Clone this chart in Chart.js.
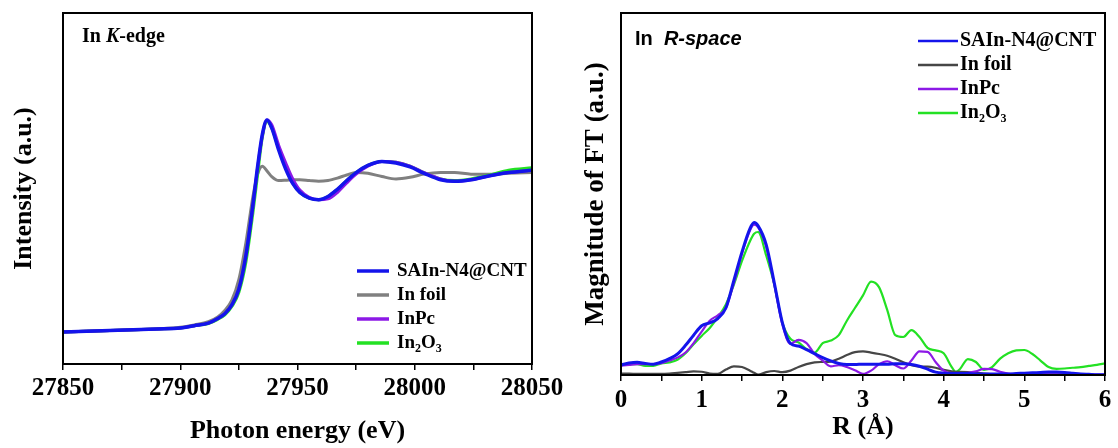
<!DOCTYPE html>
<html>
<head>
<meta charset="utf-8">
<script src="https://cdn.jsdelivr.net/npm/chart.js@4.4.1/dist/chart.umd.min.js"></script>
<style>
	html, body { margin: 0; padding: 0; background: #fff; }
	#wrap { position: relative; width: 1118px; height: 448px; overflow: hidden; }
	.panel { position: absolute; top: 0; }
	#xanes { left: 0; }
	#exafs { left: 560px; }
</style>
</head>
<body>
<div id="wrap">
	<div class="panel" id="xanes"><canvas id="xanesChart" width="590" height="448"></canvas></div>
	<div class="panel" id="exafs"><canvas id="exafsChart" width="558" height="448"></canvas></div>
</div>
<script>
// sample names, in legend order (underscore + digit = subscript)
const sampleNames = ["SAIn-N4@CNT", "In foil", "InPc", "In_2O_3"];
const sampleColors = ["rgb(20, 20, 235)", "rgb(128, 128, 128)", "rgb(140, 25, 230)", "rgb(35, 225, 35)"];
const foilColorFT = "rgb(70, 70, 70)";

// In K-edge XANES, normalized absorption
const energy = [27850, 27870, 27890, 27900, 27906, 27912, 27916, 27919, 27922, 27925, 27928, 27931, 27933, 27935, 27937, 27939, 27942, 27945, 27948, 27951, 27955, 27959, 27963, 27967, 27971, 27975, 27980, 27986, 27992, 27998, 28004, 28011, 28017, 28024, 28032, 28040, 28050];
const muSAIn = [0.0, 0.01, 0.02, 0.025, 0.04, 0.056, 0.085, 0.115, 0.17, 0.27, 0.48, 0.8, 1.04, 1.24, 1.33, 1.28, 1.14, 1.02, 0.93, 0.875, 0.84, 0.83, 0.85, 0.895, 0.95, 1.0, 1.045, 1.07, 1.06, 1.035, 0.995, 0.955, 0.945, 0.955, 0.98, 1.0, 1.015];
const muFoil = [0.0, 0.01, 0.02, 0.03, 0.045, 0.065, 0.095, 0.135, 0.2, 0.33, 0.56, 0.85, 0.99, 1.04, 1.01, 0.975, 0.95, 0.952, 0.955, 0.955, 0.95, 0.945, 0.95, 0.965, 0.985, 1.0, 0.995, 0.975, 0.96, 0.97, 0.99, 1.0, 1.0, 0.99, 0.99, 0.995, 1.0];
const muInPc = [0.0, 0.01, 0.02, 0.025, 0.04, 0.056, 0.085, 0.115, 0.17, 0.27, 0.48, 0.79, 1.03, 1.23, 1.33, 1.3, 1.17, 1.06, 0.96, 0.89, 0.845, 0.83, 0.835, 0.875, 0.935, 0.99, 1.04, 1.07, 1.065, 1.04, 1.0, 0.96, 0.945, 0.955, 0.98, 1.0, 1.015];
const muIn2O3 = [0.0, 0.01, 0.02, 0.025, 0.04, 0.054, 0.08, 0.108, 0.16, 0.25, 0.44, 0.75, 0.99, 1.22, 1.32, 1.28, 1.15, 1.03, 0.935, 0.875, 0.84, 0.83, 0.85, 0.895, 0.95, 1.0, 1.045, 1.07, 1.065, 1.04, 1.0, 0.96, 0.95, 0.96, 0.985, 1.015, 1.03];
const energyMajor = [27850, 27900, 27950, 28000, 28050];

// R-space magnitude of FT
const rDist = [0, 0.1, 0.2, 0.3, 0.4, 0.5, 0.6, 0.7, 0.8, 0.9, 1.0, 1.1, 1.2, 1.3, 1.4, 1.5, 1.6, 1.65, 1.7, 1.8, 1.9, 2.0, 2.1, 2.2, 2.3, 2.4, 2.5, 2.6, 2.7, 2.8, 2.9, 3.0, 3.1, 3.2, 3.3, 3.4, 3.5, 3.6, 3.7, 3.8, 3.9, 4.0, 4.1, 4.15, 4.2, 4.3, 4.4, 4.5, 4.6, 4.7, 4.8, 4.9, 5.0, 5.1, 5.2, 5.3, 5.4, 5.5, 5.6, 5.7, 5.8, 5.9, 6.0];
const ftSAIn = [0.28, 0.33, 0.35, 0.32, 0.3, 0.36, 0.45, 0.58, 0.82, 1.1, 1.36, 1.44, 1.56, 1.85, 2.62, 3.4, 4.05, 4.21, 4.12, 3.6, 2.55, 1.45, 0.87, 0.8, 0.7, 0.59, 0.48, 0.39, 0.32, 0.29, 0.29, 0.3, 0.3, 0.3, 0.3, 0.31, 0.31, 0.29, 0.24, 0.16, 0.08, 0.05, 0.04, 0.04, 0.04, 0.04, 0.03, 0.03, 0.03, 0.03, 0.03, 0.04, 0.05, 0.06, 0.07, 0.08, 0.08, 0.07, 0.05, 0.03, 0.02, 0.01, 0.01];
const ftFoil = [0.04, 0.04, 0.03, 0.03, 0.03, 0.03, 0.04, 0.06, 0.08, 0.1, 0.09, 0.04, 0.03, 0.15, 0.24, 0.22, 0.12, 0.06, 0.01, 0.08, 0.11, 0.08, 0.12, 0.22, 0.3, 0.35, 0.36, 0.37, 0.45, 0.55, 0.63, 0.65, 0.62, 0.58, 0.53, 0.45, 0.35, 0.27, 0.23, 0.23, 0.2, 0.14, 0.1, 0.09, 0.09, 0.08, 0.06, 0.04, 0.02, 0.0, 0.01, 0.02, 0.02, 0.02, 0.02, 0.02, 0.02, 0.02, 0.01, 0.01, 0.01, 0.0, 0.0];
const ftInPc = [0.26, 0.28, 0.3, 0.3, 0.3, 0.33, 0.4, 0.48, 0.62, 0.88, 1.2, 1.5, 1.65, 1.85, 2.55, 3.35, 4.0, 4.15, 4.08, 3.55, 2.5, 1.4, 0.86, 0.97, 0.88, 0.58, 0.4, 0.24, 0.27, 0.22, 0.13, 0.03, 0.12, 0.3, 0.38, 0.27, 0.18, 0.4, 0.65, 0.64, 0.36, 0.12, 0.05, 0.05, 0.05, 0.06, 0.1, 0.17, 0.16, 0.09, 0.04, 0.02, 0.02, 0.02, 0.02, 0.02, 0.02, 0.01, 0.01, 0.01, 0.01, 0.01, 0.01];
const ftIn2O3 = [0.3, 0.3, 0.3, 0.25, 0.25, 0.32, 0.35, 0.42, 0.6, 0.85, 1.08, 1.3, 1.6, 1.95, 2.5, 3.15, 3.7, 3.9, 3.95, 3.3, 2.5, 1.45, 1.0, 0.9, 0.72, 0.62, 0.88, 0.95, 1.1, 1.5, 1.85, 2.2, 2.58, 2.42, 1.8, 1.1, 1.05, 1.24, 1.05, 0.75, 0.68, 0.6, 0.22, 0.09, 0.16, 0.44, 0.36, 0.14, 0.22, 0.45, 0.6, 0.68, 0.69, 0.58, 0.4, 0.22, 0.17, 0.18, 0.2, 0.22, 0.25, 0.28, 0.32];
const rMajor = [0, 1, 2, 3, 4, 5, 6];

const SERIF = '"Liberation Serif", "Times New Roman", serif';
const SANS = '"Liberation Sans", Arial, sans-serif';

const toPoints = (xs, ys) => xs.map((x, i) => ({ x: x, y: ys[i] }));

// text with "_d" subscripts, drawn left to right
function drawRichLabel(ctx, text, x, y, size, family) {
	const parts = text.split(/_(\d)/);
	parts.forEach((p, k) => {
		const sub = k % 2 === 1;
		ctx.font = "bold " + (sub ? Math.round(size * 0.62) : size) + "px " + family;
		ctx.fillText(p, x, sub ? y + size * 0.3 : y);
		x += ctx.measureText(p).width;
	});
}

// closed frame, panel tag and hand-drawn legend
const panelDecor = {
	id: "panelDecor",
	afterDatasetsDraw(chart, args, opts) {
		const { ctx, chartArea: a } = chart;
		ctx.save();
		ctx.strokeStyle = "#000";
		ctx.lineWidth = 2;
		ctx.strokeRect(a.left, a.top, a.right - a.left, a.bottom - a.top);

		ctx.fillStyle = "#000";
		ctx.textBaseline = "alphabetic";
		let tx = opts.tagX;
		opts.tag.forEach((part) => {
			ctx.font = part.font;
			ctx.fillText(part.text, tx, opts.tagY);
			tx += ctx.measureText(part.text).width;
		});

		const lg = opts.legend;
		ctx.textBaseline = "middle";
		chart.data.datasets.forEach((ds, i) => {
			const y = lg.y + i * lg.rowGap;
			ctx.strokeStyle = ds.borderColor;
			ctx.lineWidth = lg.lineWidth;
			ctx.beginPath();
			ctx.moveTo(lg.x, y);
			ctx.lineTo(lg.x + lg.lineLen, y);
			ctx.stroke();
			ctx.fillStyle = "#000";
			drawRichLabel(ctx, ds.label, lg.x + lg.lineLen + lg.gap, y, lg.size, SERIF);
		});
		ctx.restore();
	},
};

function makeDataset(i, xs, ys, width, color, order) {
	return {
		label: sampleNames[i],
		data: toPoints(xs, ys),
		borderColor: color || sampleColors[i],
		borderWidth: width,
		pointRadius: 0,
		cubicInterpolationMode: "monotone",
		fill: false,
		order: order,
	};
}

const axisFont = (size) => ({ family: SERIF, size: size, weight: "bold" });

const xanesCtx = document.getElementById("xanesChart").getContext("2d");
new Chart(xanesCtx, {
	type: "line",
	data: {
		datasets: [
			makeDataset(0, energy, muSAIn, 3.5, null, 1),
			makeDataset(1, energy, muFoil, 3, null, 4),
			makeDataset(2, energy, muInPc, 3, null, 2),
			makeDataset(3, energy, muIn2O3, 3, null, 3),
		],
	},
	options: {
		responsive: false,
		animation: false,
		layout: { padding: { left: 0, right: 58, top: 13, bottom: 0 } },
		plugins: {
			legend: { display: false },
			tooltip: { enabled: false },
			panelDecor: {
				tagX: 82,
				tagY: 42,
				tag: [
					{ text: "In ", font: "bold 20px " + SERIF },
					{ text: "K", font: "italic bold 20px " + SERIF },
					{ text: "-edge", font: "bold 20px " + SERIF },
				],
				legend: { x: 357, y: 271, rowGap: 24, lineLen: 32, gap: 8, lineWidth: 3.5, size: 19 },
			},
		},
		scales: {
			x: {
				type: "linear",
				min: 27850,
				max: 28050,
				ticks: {
					stepSize: 25,
					autoSkip: false,
					maxRotation: 0,
					padding: 4,
					color: "#000",
					font: axisFont(25),
					callback: (v) => (energyMajor.includes(v) ? String(v) : ""),
				},
				grid: { drawOnChartArea: false, drawTicks: true, tickLength: 6, color: "#000", lineWidth: 1.5 },
				border: { display: true, color: "#000", width: 2 },
				title: { display: true, text: "Photon energy (eV)", color: "#000", font: axisFont(26), padding: { top: 0, bottom: 1 } },
				afterFit: (scale) => {
					scale.height = 84;
					scale.paddingLeft = 0;
					scale.paddingRight = 0;
				},
			},
			y: {
				min: -0.2,
				max: 2.0,
				ticks: { display: false },
				grid: { display: false },
				border: { display: true, color: "#000", width: 2 },
				title: { display: true, text: "Intensity (a.u.)", color: "#000", font: axisFont(26), padding: { top: 9, bottom: 0 } },
				afterFit: (scale) => {
					scale.width = 63;
				},
			},
		},
	},
	plugins: [panelDecor],
});

const exafsCtx = document.getElementById("exafsChart").getContext("2d");
new Chart(exafsCtx, {
	type: "line",
	data: {
		datasets: [
			makeDataset(0, rDist, ftSAIn, 3, null, 1),
			makeDataset(1, rDist, ftFoil, 2.2, foilColorFT, 3),
			makeDataset(2, rDist, ftInPc, 2.2, null, 2),
			makeDataset(3, rDist, ftIn2O3, 2.2, null, 4),
		],
	},
	options: {
		responsive: false,
		animation: false,
		layout: { padding: { left: 0, right: 13, top: 13, bottom: 0 } },
		plugins: {
			legend: { display: false },
			tooltip: { enabled: false },
			panelDecor: {
				tagX: 75,
				tagY: 45,
				tag: [
					{ text: "In  ", font: "bold 20px " + SANS },
					{ text: "R-space", font: "italic bold 20px " + SANS },
				],
				legend: { x: 358, y: 41, rowGap: 24, lineLen: 40, gap: 2, lineWidth: 2.5, size: 20 },
			},
		},
		scales: {
			x: {
				type: "linear",
				min: 0,
				max: 6,
				ticks: {
					stepSize: 0.5,
					autoSkip: false,
					maxRotation: 0,
					padding: 5,
					color: "#000",
					font: axisFont(25),
					callback: (v) => (rMajor.includes(v) ? String(v) : ""),
				},
				grid: { drawOnChartArea: false, drawTicks: true, tickLength: 6, color: "#000", lineWidth: 1.5 },
				border: { display: true, color: "#000", width: 2 },
				title: { display: true, text: "R (Å)", color: "#000", font: axisFont(26), padding: { top: 0, bottom: 5 } },
				afterFit: (scale) => {
					scale.height = 73;
					scale.paddingLeft = 0;
					scale.paddingRight = 0;
				},
			},
			y: {
				min: 0,
				max: 10,
				ticks: { display: false },
				grid: { display: false },
				border: { display: true, color: "#000", width: 2 },
				title: { display: true, text: "Magnitude of FT (a.u.)", color: "#000", font: axisFont(27), padding: { top: 20, bottom: 0 } },
				afterFit: (scale) => {
					scale.width = 61;
				},
			},
		},
	},
	plugins: [panelDecor],
});
</script>
</body>
</html>
